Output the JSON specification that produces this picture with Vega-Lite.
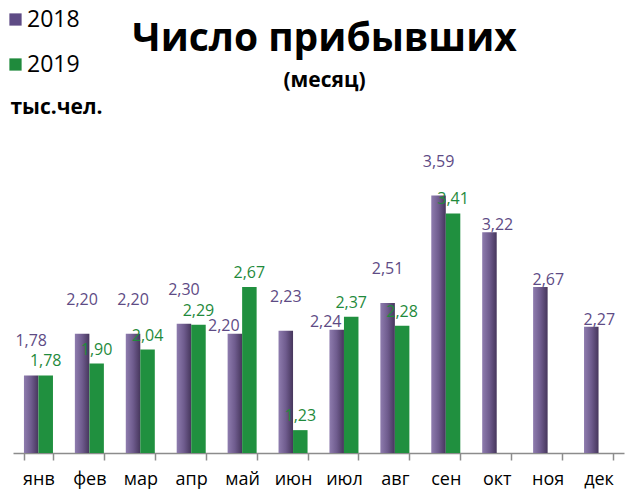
{
  "$schema": "https://vega.github.io/schema/vega-lite/v6.json",
  "autosize": {"type": "none"},
  "width": 611,
  "height": 333,
  "padding": {"left": 13, "top": 120, "right": 4, "bottom": 41},
  "background": "white",
  "config": {"view": {"stroke": null}, "font": "Open Sans"},
  "title": {
    "text": "Число прибывших",
    "subtitle": "(месяц)",
    "anchor": "middle",
    "frame": "group",
    "dx": 6,
    "font": "Open Sans",
    "fontSize": 39,
    "fontWeight": "bold",
    "color": "#000000",
    "subtitleFont": "Open Sans",
    "subtitleFontSize": 21,
    "subtitleFontWeight": "bold",
    "subtitleColor": "#000000",
    "subtitlePadding": 11,
    "offset": -83
  },
  "data": {
    "values": [
      {"month": "янв", "year": "2018", "value": 1.78, "label": "1,78"},
      {"month": "фев", "year": "2018", "value": 2.20, "label": "2,20"},
      {"month": "мар", "year": "2018", "value": 2.20, "label": "2,20"},
      {"month": "апр", "year": "2018", "value": 2.30, "label": "2,30"},
      {"month": "май", "year": "2018", "value": 2.20, "label": "2,20"},
      {"month": "июн", "year": "2018", "value": 2.23, "label": "2,23"},
      {"month": "июл", "year": "2018", "value": 2.24, "label": "2,24"},
      {"month": "авг", "year": "2018", "value": 2.51, "label": "2,51"},
      {"month": "сен", "year": "2018", "value": 3.59, "label": "3,59"},
      {"month": "окт", "year": "2018", "value": 3.22, "label": "3,22"},
      {"month": "ноя", "year": "2018", "value": 2.67, "label": "2,67"},
      {"month": "дек", "year": "2018", "value": 2.27, "label": "2,27"},
      {"month": "янв", "year": "2019", "value": 1.78, "label": "1,78"},
      {"month": "фев", "year": "2019", "value": 1.90, "label": "1,90"},
      {"month": "мар", "year": "2019", "value": 2.04, "label": "2,04"},
      {"month": "апр", "year": "2019", "value": 2.29, "label": "2,29"},
      {"month": "май", "year": "2019", "value": 2.67, "label": "2,67"},
      {"month": "июн", "year": "2019", "value": 1.23, "label": "1,23"},
      {"month": "июл", "year": "2019", "value": 2.37, "label": "2,37"},
      {"month": "авг", "year": "2019", "value": 2.28, "label": "2,28"},
      {"month": "сен", "year": "2019", "value": 3.41, "label": "3,41"}
    ]
  },
  "transform": [
    {"joinaggregate": [{"op": "max", "field": "value", "as": "mx"}, {"op": "count", "as": "n"}], "groupby": ["month"]}
  ],
  "encoding": {
    "x": {
      "field": "month",
      "type": "nominal",
      "sort": ["янв", "фев", "мар", "апр", "май", "июн", "июл", "авг", "сен", "окт", "ноя", "дек"],
      "scale": {"paddingInner": 0.43, "paddingOuter": 0.215},
      "axis": {
        "title": null,
        "labelAngle": 0,
        "labelFont": "Open Sans",
        "labelFontSize": 18,
        "labelColor": "#000000",
        "labelPadding": 10,
        "tickBand": "extent",
        "tickSize": 7,
        "tickColor": "#8c8c8c",
        "domainColor": "#8c8c8c",
        "tickWidth": 1.5,
        "domainWidth": 1.5
      }
    },
    "xOffset": {"field": "year", "type": "nominal", "scale": {"domain": ["2018", "2019"], "paddingInner": 0, "paddingOuter": 0}},
    "y": {
      "field": "value",
      "type": "quantitative",
      "scale": {"domain": [1.0, 4.35], "zero": false, "nice": false},
      "axis": {
        "title": "тыс.чел.",
        "titleAngle": 0,
        "titleAlign": "left",
        "titleBaseline": "alphabetic",
        "titleX": -3,
        "titleY": -7,
        "titleFont": "Open Sans",
        "titleFontSize": 21,
        "titleFontWeight": "bold",
        "titleColor": "#000000",
        "labels": false,
        "ticks": false,
        "domain": false,
        "grid": false
      }
    }
  },
  "layer": [
    {
      "transform": [{"filter": "datum.year == '2018'"}],
      "mark": {
        "type": "bar",
        "color": {
          "gradient": "linear",
          "x1": 0, "y1": 0, "x2": 1, "y2": 0,
          "stops": [
            {"offset": 0, "color": "#8e7cae"},
            {"offset": 0.5, "color": "#6f5c8e"},
            {"offset": 1, "color": "#46365c"}
          ]
        }
      },
      "encoding": {"y2": {"datum": 1.0}}
    },
    {
      "transform": [{"filter": "datum.year == '2019'"}],
      "mark": {"type": "bar", "color": "#20903f"},
      "encoding": {"y2": {"datum": 1.0}}
    },
    {
      "transform": [{"filter": "datum.year == '2018' && datum.n == 2 && datum.value >= datum.mx"}],
      "mark": {"type": "text", "baseline": "alphabetic", "dy": -29, "fontSize": 16, "font": "Open Sans"},
      "encoding": {
        "text": {"field": "label"},
        "color": {
          "field": "year",
          "type": "nominal",
          "scale": {"domain": ["2018", "2019"], "range": ["#5e4b85", "#1f8a3c"]},
          "legend": {
            "title": null,
            "orient": "none",
            "legendX": -9,
            "legendY": -112,
            "symbolType": "square",
            "symbolSize": 150,
            "symbolStrokeWidth": 0,
            "labelFont": "Open Sans",
            "labelFontSize": 23,
            "labelColor": "#000000",
            "labelOffset": 0,
            "rowPadding": 21
          }
        }
      }
    },
    {
      "transform": [{"filter": "datum.year == '2018' && datum.n == 2 && datum.value < datum.mx"}],
      "mark": {"type": "text", "baseline": "alphabetic", "dx": -11, "dy": -3, "fontSize": 16, "font": "Open Sans"},
      "encoding": {
        "text": {"field": "label"},
        "color": {"field": "year", "type": "nominal"}
      }
    },
    {
      "transform": [{"filter": "datum.year == '2018' && datum.n == 1"}],
      "mark": {"type": "text", "baseline": "alphabetic", "dx": 8, "dy": -2, "fontSize": 16, "font": "Open Sans"},
      "encoding": {
        "text": {"field": "label"},
        "color": {"field": "year", "type": "nominal"}
      }
    },
    {
      "transform": [{"filter": "datum.year == '2019'"}],
      "mark": {"type": "text", "baseline": "alphabetic", "dy": -9, "fontSize": 16, "font": "Open Sans"},
      "encoding": {
        "text": {"field": "label"},
        "color": {"field": "year", "type": "nominal"}
      }
    }
  ]
}
